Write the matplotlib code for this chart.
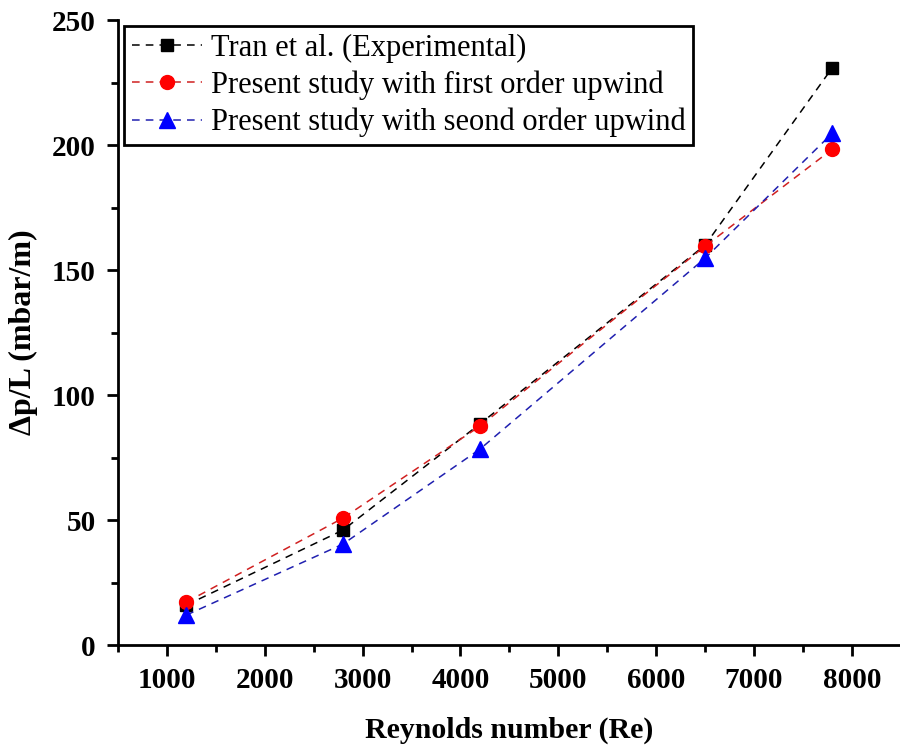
import matplotlib.pyplot as plt
from matplotlib.ticker import MultipleLocator

# Reynolds number vs pressure drop per unit length
re = [1200, 2800, 4200, 6500, 7800]
tran_exp = [16.0, 46.0, 88.5, 160.0, 231.0]
first_order = [17.2, 50.8, 87.6, 159.6, 198.4]
second_order = [12.0, 40.4, 78.4, 154.8, 204.8]

labels = ["Tran et al. (Experimental)",
          "Present study with first order upwind",
          "Present study with seond order upwind"]

plt.rcParams['font.family'] = ['Liberation Serif', 'DejaVu Serif']

fig = plt.figure(figsize=(9, 7.47), dpi=100)
ax = fig.add_axes([0.131, 0.1365, 0.87, 0.8365])

ax.plot(re, tran_exp, ls='--', lw=1.1, color='black', marker='s', ms=9,
        dashes=(5, 4), label=labels[0])
ax.plot(re, first_order, ls='--', lw=1.1, color='#d02020', marker='o', ms=10,
        mfc='red', mec='red', dashes=(5, 4), label=labels[1])
ax.plot(re, second_order, ls='--', lw=1.1, color='#2020b0', marker='^', ms=11,
        mfc='blue', mec='blue', dashes=(5, 4), label=labels[2])

ax.set_xlim(500, 8500)
ax.set_ylim(0, 250)
ax.xaxis.set_major_locator(MultipleLocator(1000))
ax.xaxis.set_minor_locator(MultipleLocator(500))
ax.yaxis.set_major_locator(MultipleLocator(50))
ax.yaxis.set_minor_locator(MultipleLocator(25))

for s in ['top', 'right']:
    ax.spines[s].set_visible(False)
for s in ['left', 'bottom']:
    ax.spines[s].set_linewidth(2)

ax.tick_params(which='major', direction='out', length=8, width=2, labelsize=21, pad=8)
ax.tick_params(which='minor', direction='out', length=5, width=2)
for t in ax.get_xticklabels() + ax.get_yticklabels():
    t.set_fontweight('bold')

ax.set_xlabel("Reynolds number (Re)", fontsize=21.5, fontweight='bold', labelpad=16)
ax.set_ylabel("Δp/L (mbar/m)", fontsize=23, fontweight='bold', labelpad=10)

leg = ax.legend(loc='upper left', fontsize=22, frameon=True, fancybox=False,
                borderpad=0.25, handlelength=2.3, handletextpad=0.3,
                labelspacing=0.25, borderaxespad=0.2,
                bbox_to_anchor=(0.0, 1.0))
leg.get_frame().set_edgecolor('black')
leg.get_frame().set_linewidth(2)
leg.get_frame().set_alpha(1)

fig.savefig("out.png", dpi=100)
